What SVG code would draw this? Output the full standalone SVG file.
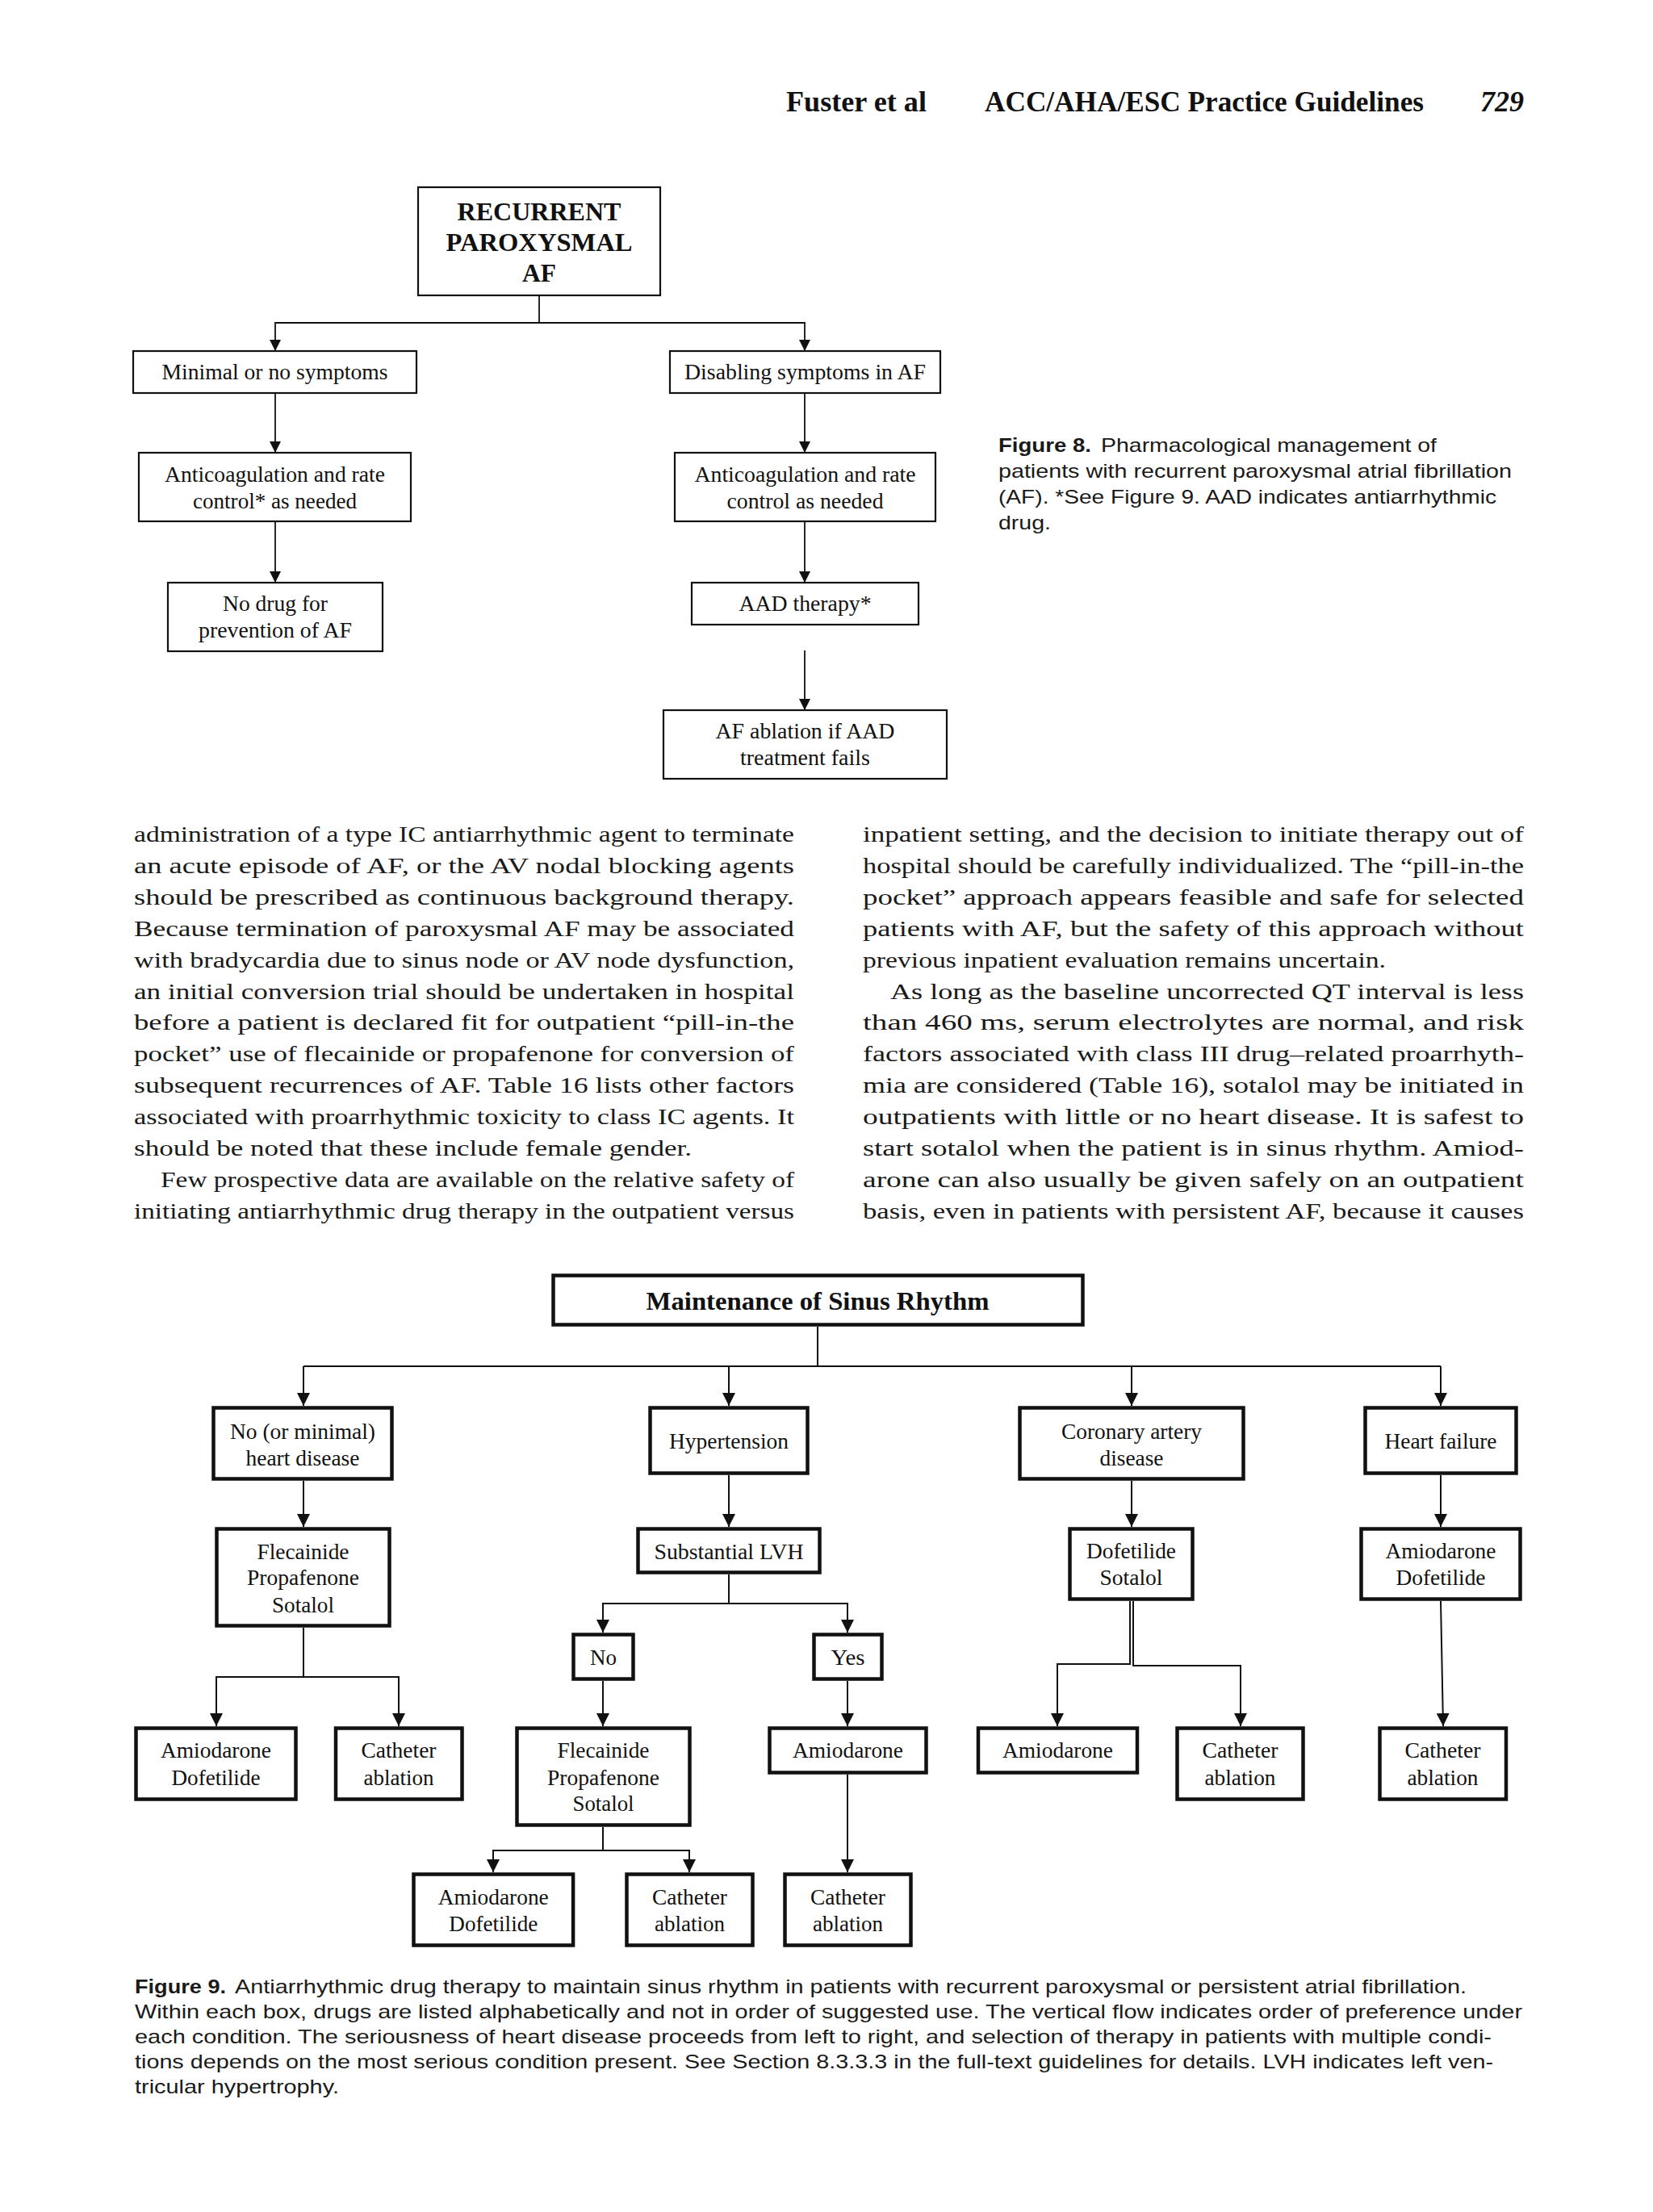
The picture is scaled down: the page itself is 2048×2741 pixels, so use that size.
<svg xmlns="http://www.w3.org/2000/svg" width="2048" height="2741" viewBox="0 0 2048 2741">
<style>
.bg{fill:#fff}
.b8{fill:#fff;stroke:#111;stroke-width:2.2}
.b9{fill:#fff;stroke:#111;stroke-width:4.5}
.c8{fill:none;stroke:#111;stroke-width:1.8}
.c9{fill:none;stroke:#111;stroke-width:2}
.nt{font-family:"Liberation Serif","Times New Roman",serif;font-size:27px;fill:#111;text-anchor:middle}
.nb{font-family:"Liberation Serif","Times New Roman",serif;font-size:32px;font-weight:bold;fill:#111;text-anchor:middle}
.body{font-family:"Liberation Serif","Times New Roman",serif;font-size:28px;fill:#1a1a1a}
.cap{font-family:"Liberation Sans",Arial,sans-serif;font-size:24px;fill:#1a1a1a}
.capb{font-family:"Liberation Sans",Arial,sans-serif;font-size:24px;font-weight:bold;fill:#1a1a1a}
.hdr{font-family:"Liberation Serif","Times New Roman",serif;font-size:35px;font-weight:bold;fill:#111}
</style>
<defs>
<marker id="a8" markerUnits="userSpaceOnUse" markerWidth="14" markerHeight="14" refX="14" refY="7" orient="auto"><path d="M0,0 L14,7 L0,14 Z" fill="#111"/></marker>
<marker id="a9" markerUnits="userSpaceOnUse" markerWidth="16" markerHeight="16" refX="16" refY="8" orient="auto"><path d="M0,0 L16,8 L0,16 Z" fill="#111"/></marker>
</defs>
<rect class="bg" x="0" y="0" width="2048" height="2741"/>

<g id="header">
<text class="hdr" x="974" y="138" textLength="174" lengthAdjust="spacingAndGlyphs">Fuster et al</text>
<text class="hdr" x="1220" y="138" textLength="544" lengthAdjust="spacingAndGlyphs">ACC/AHA/ESC Practice Guidelines</text>
<text class="hdr" x="1834" y="138" font-style="italic" textLength="54" lengthAdjust="spacingAndGlyphs">729</text>
</g>

<!-- Figure 8 -->
<g id="fig8-connectors">
<path class="c8" d="M668,366 V400 H341 V435" marker-end="url(#a8)"/>
<path class="c8" d="M668,400 H997 V435" marker-end="url(#a8)"/>
<path class="c8" d="M341,487 V561" marker-end="url(#a8)"/>
<path class="c8" d="M997,487 V561" marker-end="url(#a8)"/>
<path class="c8" d="M341,646 V722" marker-end="url(#a8)"/>
<path class="c8" d="M997,646 V722" marker-end="url(#a8)"/>
<path class="c8" d="M997,806 V880" marker-end="url(#a8)"/>
</g>
<g id="f8-recurrent">
<rect class="b8" x="518" y="232" width="300" height="134"/>
<text class="nb" x="668" y="273" textLength="203" lengthAdjust="spacingAndGlyphs">RECURRENT</text>
<text class="nb" x="668" y="311" textLength="231" lengthAdjust="spacingAndGlyphs">PAROXYSMAL</text>
<text class="nb" x="668" y="349" textLength="42" lengthAdjust="spacingAndGlyphs">AF</text>
</g>
<g id="f8-minimal">
<rect class="b8" x="165" y="435" width="351" height="52"/>
<text class="nt" x="340.5" y="470" textLength="280" lengthAdjust="spacingAndGlyphs">Minimal or no symptoms</text>
</g>
<g id="f8-disabling">
<rect class="b8" x="830" y="435" width="335" height="52"/>
<text class="nt" x="997.5" y="470" textLength="299" lengthAdjust="spacingAndGlyphs">Disabling symptoms in AF</text>
</g>
<g id="f8-anticoag1">
<rect class="b8" x="172" y="561" width="337" height="85"/>
<text class="nt" x="340.5" y="597" textLength="273" lengthAdjust="spacingAndGlyphs">Anticoagulation and rate</text>
<text class="nt" x="340.5" y="630" textLength="203" lengthAdjust="spacingAndGlyphs">control* as needed</text>
</g>
<g id="f8-anticoag2">
<rect class="b8" x="836" y="561" width="323" height="85"/>
<text class="nt" x="997.5" y="597" textLength="274" lengthAdjust="spacingAndGlyphs">Anticoagulation and rate</text>
<text class="nt" x="997.5" y="630" textLength="194" lengthAdjust="spacingAndGlyphs">control as needed</text>
</g>
<g id="f8-nodrug">
<rect class="b8" x="208" y="722" width="266" height="85"/>
<text class="nt" x="341" y="757" textLength="130" lengthAdjust="spacingAndGlyphs">No drug for</text>
<text class="nt" x="341" y="790" textLength="190" lengthAdjust="spacingAndGlyphs">prevention of AF</text>
</g>
<g id="f8-aad">
<rect class="b8" x="857" y="722" width="281" height="52"/>
<text class="nt" x="997.5" y="757" textLength="164" lengthAdjust="spacingAndGlyphs">AAD therapy*</text>
</g>
<g id="f8-ablation">
<rect class="b8" x="822" y="880" width="351" height="85"/>
<text class="nt" x="997.5" y="915" textLength="222" lengthAdjust="spacingAndGlyphs">AF ablation if AAD</text>
<text class="nt" x="997.5" y="948" textLength="161" lengthAdjust="spacingAndGlyphs">treatment fails</text>
</g>
<g id="f8-caption">
<text class="capb" x="1237" y="560" textLength="115" lengthAdjust="spacingAndGlyphs">Figure 8.</text>
<text class="cap" x="1364" y="560" textLength="416" lengthAdjust="spacingAndGlyphs">Pharmacological management of</text>
<text class="cap" x="1237" y="592" textLength="636" lengthAdjust="spacingAndGlyphs">patients with recurrent paroxysmal atrial fibrillation</text>
<text class="cap" x="1237" y="624" textLength="617" lengthAdjust="spacingAndGlyphs">(AF). *See Figure 9. AAD indicates antiarrhythmic</text>
<text class="cap" x="1237" y="656" textLength="65" lengthAdjust="spacingAndGlyphs">drug.</text>
</g>

<!-- Body text -->
<g id="body-left">
<text class="body" x="166" y="1043" textLength="818" lengthAdjust="spacingAndGlyphs">administration of a type IC antiarrhythmic agent to terminate</text>
<text class="body" x="166" y="1081.9" textLength="818" lengthAdjust="spacingAndGlyphs">an acute episode of AF, or the AV nodal blocking agents</text>
<text class="body" x="166" y="1120.8" textLength="818" lengthAdjust="spacingAndGlyphs">should be prescribed as continuous background therapy.</text>
<text class="body" x="166" y="1159.7" textLength="818" lengthAdjust="spacingAndGlyphs">Because termination of paroxysmal AF may be associated</text>
<text class="body" x="166" y="1198.6" textLength="818" lengthAdjust="spacingAndGlyphs">with bradycardia due to sinus node or AV node dysfunction,</text>
<text class="body" x="166" y="1237.5" textLength="818" lengthAdjust="spacingAndGlyphs">an initial conversion trial should be undertaken in hospital</text>
<text class="body" x="166" y="1276.4" textLength="818" lengthAdjust="spacingAndGlyphs">before a patient is declared fit for outpatient “pill-in-the</text>
<text class="body" x="166" y="1315.3" textLength="818" lengthAdjust="spacingAndGlyphs">pocket” use of flecainide or propafenone for conversion of</text>
<text class="body" x="166" y="1354.2" textLength="818" lengthAdjust="spacingAndGlyphs">subsequent recurrences of AF. Table 16 lists other factors</text>
<text class="body" x="166" y="1393.1" textLength="818" lengthAdjust="spacingAndGlyphs">associated with proarrhythmic toxicity to class IC agents. It</text>
<text class="body" x="166" y="1432" textLength="691" lengthAdjust="spacingAndGlyphs">should be noted that these include female gender.</text>
<text class="body" x="199" y="1470.9" textLength="785" lengthAdjust="spacingAndGlyphs">Few prospective data are available on the relative safety of</text>
<text class="body" x="166" y="1509.8" textLength="818" lengthAdjust="spacingAndGlyphs">initiating antiarrhythmic drug therapy in the outpatient versus</text>
</g>
<g id="body-right">
<text class="body" x="1069" y="1043" textLength="819" lengthAdjust="spacingAndGlyphs">inpatient setting, and the decision to initiate therapy out of</text>
<text class="body" x="1069" y="1081.9" textLength="819" lengthAdjust="spacingAndGlyphs">hospital should be carefully individualized. The “pill-in-the</text>
<text class="body" x="1069" y="1120.8" textLength="819" lengthAdjust="spacingAndGlyphs">pocket” approach appears feasible and safe for selected</text>
<text class="body" x="1069" y="1159.7" textLength="819" lengthAdjust="spacingAndGlyphs">patients with AF, but the safety of this approach without</text>
<text class="body" x="1069" y="1198.6" textLength="648" lengthAdjust="spacingAndGlyphs">previous inpatient evaluation remains uncertain.</text>
<text class="body" x="1103" y="1237.5" textLength="785" lengthAdjust="spacingAndGlyphs">As long as the baseline uncorrected QT interval is less</text>
<text class="body" x="1069" y="1276.4" textLength="819" lengthAdjust="spacingAndGlyphs">than 460 ms, serum electrolytes are normal, and risk</text>
<text class="body" x="1069" y="1315.3" textLength="819" lengthAdjust="spacingAndGlyphs">factors associated with class III drug–related proarrhyth-</text>
<text class="body" x="1069" y="1354.2" textLength="819" lengthAdjust="spacingAndGlyphs">mia are considered (Table 16), sotalol may be initiated in</text>
<text class="body" x="1069" y="1393.1" textLength="819" lengthAdjust="spacingAndGlyphs">outpatients with little or no heart disease. It is safest to</text>
<text class="body" x="1069" y="1432" textLength="819" lengthAdjust="spacingAndGlyphs">start sotalol when the patient is in sinus rhythm. Amiod-</text>
<text class="body" x="1069" y="1470.9" textLength="819" lengthAdjust="spacingAndGlyphs">arone can also usually be given safely on an outpatient</text>
<text class="body" x="1069" y="1509.8" textLength="819" lengthAdjust="spacingAndGlyphs">basis, even in patients with persistent AF, because it causes</text>
</g>

<!-- Figure 9 -->
<g id="fig9-connectors">
<path class="c9" d="M1013,1644 V1693"/>
<path class="c9" d="M376,1693 H1785"/>
<path class="c9" d="M376,1693 V1742" marker-end="url(#a9)"/>
<path class="c9" d="M903,1693 V1742" marker-end="url(#a9)"/>
<path class="c9" d="M1402,1693 V1742" marker-end="url(#a9)"/>
<path class="c9" d="M1785,1693 V1742" marker-end="url(#a9)"/>
<path class="c9" d="M376,1835 V1892" marker-end="url(#a9)"/>
<path class="c9" d="M903,1828 V1892" marker-end="url(#a9)"/>
<path class="c9" d="M1402,1835 V1892" marker-end="url(#a9)"/>
<path class="c9" d="M1785,1828 V1892" marker-end="url(#a9)"/>
<path class="c9" d="M903,1951 V1987 H747 V2023" marker-end="url(#a9)"/>
<path class="c9" d="M903,1987 H1050 V2023" marker-end="url(#a9)"/>
<path class="c9" d="M376,2017 V2078 H268 V2139" marker-end="url(#a9)"/>
<path class="c9" d="M376,2078 H494 V2139" marker-end="url(#a9)"/>
<path class="c9" d="M747,2083 V2139" marker-end="url(#a9)"/>
<path class="c9" d="M1050,2083 V2139" marker-end="url(#a9)"/>
<path class="c9" d="M1400,1984 V2062 H1310 V2139" marker-end="url(#a9)"/>
<path class="c9" d="M1404,1984 V2064 H1537 V2139" marker-end="url(#a9)"/>
<path class="c9" d="M1785,1984 L1788,2139" marker-end="url(#a9)"/>
<path class="c9" d="M747,2264 V2293 H611 V2320" marker-end="url(#a9)"/>
<path class="c9" d="M747,2293 H854 V2320" marker-end="url(#a9)"/>
<path class="c9" d="M1050,2199 V2320" marker-end="url(#a9)"/>
</g>
<g id="f9-main">
<rect class="b9" x="685.5" y="1580.5" width="656" height="61"/>
<text class="nb" x="1013" y="1623" font-size="31" textLength="425" lengthAdjust="spacingAndGlyphs">Maintenance of Sinus Rhythm</text>
</g>
<g id="f9-noheart">
<rect class="b9" x="264.5" y="1744.5" width="221" height="88"/>
<text class="nt" x="375" y="1783" textLength="180" lengthAdjust="spacingAndGlyphs">No (or minimal)</text>
<text class="nt" x="375" y="1816" textLength="141" lengthAdjust="spacingAndGlyphs">heart disease</text>
</g>
<g id="f9-hypertension">
<rect class="b9" x="805.5" y="1744.5" width="195" height="81"/>
<text class="nt" x="903" y="1795" textLength="148" lengthAdjust="spacingAndGlyphs">Hypertension</text>
</g>
<g id="f9-cad">
<rect class="b9" x="1263.5" y="1744.5" width="277" height="88"/>
<text class="nt" x="1402" y="1783" textLength="174" lengthAdjust="spacingAndGlyphs">Coronary artery</text>
<text class="nt" x="1402" y="1816" textLength="79" lengthAdjust="spacingAndGlyphs">disease</text>
</g>
<g id="f9-hf">
<rect class="b9" x="1691.5" y="1744.5" width="187" height="81"/>
<text class="nt" x="1785" y="1795" textLength="139" lengthAdjust="spacingAndGlyphs">Heart failure</text>
</g>
<g id="f9-flec1">
<rect class="b9" x="268.5" y="1894.5" width="214" height="120"/>
<text class="nt" x="375.5" y="1932" textLength="114" lengthAdjust="spacingAndGlyphs">Flecainide</text>
<text class="nt" x="375.5" y="1964" textLength="139" lengthAdjust="spacingAndGlyphs">Propafenone</text>
<text class="nt" x="375.5" y="1998" textLength="77" lengthAdjust="spacingAndGlyphs">Sotalol</text>
</g>
<g id="f9-lvh">
<rect class="b9" x="790.5" y="1894.5" width="225" height="54"/>
<text class="nt" x="903" y="1932" textLength="185" lengthAdjust="spacingAndGlyphs">Substantial LVH</text>
</g>
<g id="f9-dofsot">
<rect class="b9" x="1325.5" y="1894.5" width="152" height="87"/>
<text class="nt" x="1401.5" y="1931" textLength="111" lengthAdjust="spacingAndGlyphs">Dofetilide</text>
<text class="nt" x="1401.5" y="1964" textLength="78" lengthAdjust="spacingAndGlyphs">Sotalol</text>
</g>
<g id="f9-amidof-hf">
<rect class="b9" x="1686.5" y="1894.5" width="197" height="87"/>
<text class="nt" x="1785" y="1931" textLength="137" lengthAdjust="spacingAndGlyphs">Amiodarone</text>
<text class="nt" x="1785" y="1964" textLength="111" lengthAdjust="spacingAndGlyphs">Dofetilide</text>
</g>
<g id="f9-no">
<rect class="b9" x="710.5" y="2025.5" width="74" height="55"/>
<text class="nt" x="747.5" y="2063" textLength="33" lengthAdjust="spacingAndGlyphs">No</text>
</g>
<g id="f9-yes">
<rect class="b9" x="1008.5" y="2025.5" width="84" height="55"/>
<text class="nt" x="1050.5" y="2063" textLength="42" lengthAdjust="spacingAndGlyphs">Yes</text>
</g>
<g id="f9-amidof1">
<rect class="b9" x="168.5" y="2141.5" width="198" height="88"/>
<text class="nt" x="267.5" y="2178" textLength="137" lengthAdjust="spacingAndGlyphs">Amiodarone</text>
<text class="nt" x="267.5" y="2212" textLength="110" lengthAdjust="spacingAndGlyphs">Dofetilide</text>
</g>
<g id="f9-cath1">
<rect class="b9" x="416" y="2141.5" width="156.5" height="88"/>
<text class="nt" x="494" y="2178" textLength="93" lengthAdjust="spacingAndGlyphs">Catheter</text>
<text class="nt" x="494" y="2212" textLength="87" lengthAdjust="spacingAndGlyphs">ablation</text>
</g>
<g id="f9-flec2">
<rect class="b9" x="640.5" y="2141.5" width="214" height="120"/>
<text class="nt" x="747.5" y="2178" textLength="114" lengthAdjust="spacingAndGlyphs">Flecainide</text>
<text class="nt" x="747.5" y="2212" textLength="139" lengthAdjust="spacingAndGlyphs">Propafenone</text>
<text class="nt" x="747.5" y="2244" textLength="76" lengthAdjust="spacingAndGlyphs">Sotalol</text>
</g>
<g id="f9-amio-yes">
<rect class="b9" x="953.5" y="2141.5" width="194" height="55"/>
<text class="nt" x="1050.5" y="2178" textLength="137" lengthAdjust="spacingAndGlyphs">Amiodarone</text>
</g>
<g id="f9-amio-cad">
<rect class="b9" x="1212" y="2141.5" width="197" height="55"/>
<text class="nt" x="1310.5" y="2178" textLength="137" lengthAdjust="spacingAndGlyphs">Amiodarone</text>
</g>
<g id="f9-cath-cad">
<rect class="b9" x="1458.5" y="2141.5" width="156" height="88"/>
<text class="nt" x="1536.5" y="2178" textLength="94" lengthAdjust="spacingAndGlyphs">Catheter</text>
<text class="nt" x="1536.5" y="2212" textLength="88" lengthAdjust="spacingAndGlyphs">ablation</text>
</g>
<g id="f9-cath-hf">
<rect class="b9" x="1709.5" y="2141.5" width="156.5" height="88"/>
<text class="nt" x="1787.5" y="2178" textLength="94" lengthAdjust="spacingAndGlyphs">Catheter</text>
<text class="nt" x="1787.5" y="2212" textLength="88" lengthAdjust="spacingAndGlyphs">ablation</text>
</g>
<g id="f9-amidof2">
<rect class="b9" x="512.5" y="2322.5" width="197.6" height="88"/>
<text class="nt" x="611.3" y="2360" textLength="137" lengthAdjust="spacingAndGlyphs">Amiodarone</text>
<text class="nt" x="611.3" y="2393" textLength="110" lengthAdjust="spacingAndGlyphs">Dofetilide</text>
</g>
<g id="f9-cath2">
<rect class="b9" x="776.5" y="2322.5" width="156" height="88"/>
<text class="nt" x="854.5" y="2360" textLength="93" lengthAdjust="spacingAndGlyphs">Catheter</text>
<text class="nt" x="854.5" y="2393" textLength="87" lengthAdjust="spacingAndGlyphs">ablation</text>
</g>
<g id="f9-cath-yes">
<rect class="b9" x="972.5" y="2322.5" width="156" height="88"/>
<text class="nt" x="1050.5" y="2360" textLength="93" lengthAdjust="spacingAndGlyphs">Catheter</text>
<text class="nt" x="1050.5" y="2393" textLength="87" lengthAdjust="spacingAndGlyphs">ablation</text>
</g>
<g id="f9-caption">
<text class="capb" x="167" y="2470" textLength="113" lengthAdjust="spacingAndGlyphs">Figure 9.</text>
<text class="cap" x="291" y="2470" textLength="1526" lengthAdjust="spacingAndGlyphs">Antiarrhythmic drug therapy to maintain sinus rhythm in patients with recurrent paroxysmal or persistent atrial fibrillation.</text>
<text class="cap" x="167" y="2501" textLength="1719" lengthAdjust="spacingAndGlyphs">Within each box, drugs are listed alphabetically and not in order of suggested use. The vertical flow indicates order of preference under</text>
<text class="cap" x="167" y="2532" textLength="1681" lengthAdjust="spacingAndGlyphs">each condition. The seriousness of heart disease proceeds from left to right, and selection of therapy in patients with multiple condi-</text>
<text class="cap" x="167" y="2563" textLength="1683" lengthAdjust="spacingAndGlyphs">tions depends on the most serious condition present. See Section 8.3.3.3 in the full-text guidelines for details. LVH indicates left ven-</text>
<text class="cap" x="167" y="2594" textLength="253" lengthAdjust="spacingAndGlyphs">tricular hypertrophy.</text>
</g>
</svg>
